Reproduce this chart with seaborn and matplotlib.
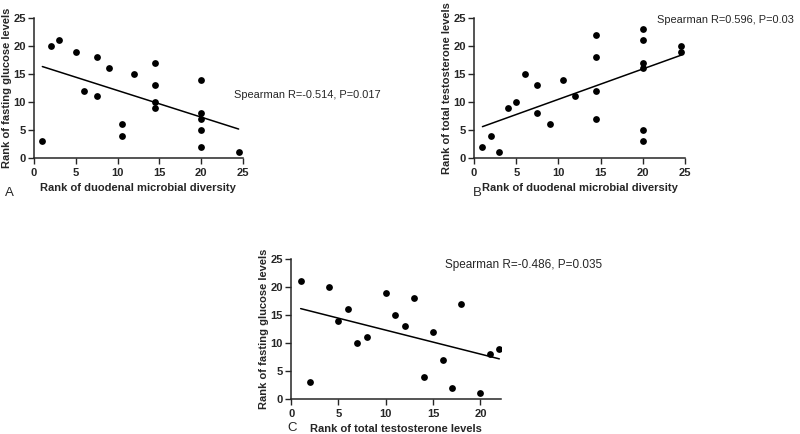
import numpy as np
import pandas as pd
import matplotlib
matplotlib.use('Agg')
import matplotlib.pyplot as plt
import seaborn as sns

# Panel A: duodenal diversity rank vs fasting glucose rank
a_x = [1, 2, 3, 5, 6, 7.5, 7.5, 9, 10.5, 10.5, 12, 14.5, 14.5, 14.5, 14.5, 20, 20, 20, 20, 20, 24.5]
a_y = [3, 20, 21, 19, 12, 18, 11, 16, 6, 4, 15, 17, 13, 10, 9, 14, 8, 7, 5, 2, 1]

# Panel B: duodenal diversity rank vs total testosterone rank
b_x = [1, 2, 3, 4, 5, 6, 7.5, 7.5, 9, 10.5, 12, 14.5, 14.5, 14.5, 14.5, 20, 20, 20, 20, 20, 20, 24.5, 24.5]
b_y = [2, 4, 1, 9, 10, 15, 13, 8, 6, 14, 11, 22, 18, 12, 7, 23, 21, 17, 16, 5, 3, 20, 19]

# Panel C: total testosterone rank vs fasting glucose rank
c_x = [1, 2, 4, 5, 6, 7, 8, 10, 11, 12, 13, 14, 15, 16, 17, 18, 20, 21, 22]
c_y = [21, 3, 20, 14, 16, 10, 11, 19, 15, 13, 18, 4, 12, 7, 2, 17, 1, 8, 9]

sns.set_style('ticks')
plt.rcParams['font.family'] = ['Liberation Sans', 'DejaVu Sans']

fig = plt.figure(figsize=(8, 4.34), dpi=100)

panels = [
    # x, y, axes rect, xmax, xticks, xlabel, ylabel, note, note pos, note size, letter, letter pos
    (a_x, a_y, [0.0425, 0.636, 0.261, 0.3226], 25, [0, 5, 10, 15, 20, 25],
     'Rank of duodenal microbial diversity', 'Rank of fasting glucose levels',
     'Spearman R=-0.514, P=0.017', (0.293, 0.781), 7.9, 'A', (0.006, 0.548)),
    (b_x, b_y, [0.5925, 0.636, 0.264, 0.3226], 25, [0, 5, 10, 15, 20, 25],
     'Rank of duodenal microbial diversity', 'Rank of total testosterone levels',
     'Spearman R=0.596, P=0.03', (0.821, 0.954), 7.9, 'B', (0.591, 0.548)),
    (c_x, c_y, [0.364, 0.0806, 0.2625, 0.3226], 22.2, [0, 5, 10, 15, 20],
     'Rank of total testosterone levels', 'Rank of fasting glucose levels',
     'Spearman R=-0.486, P=0.035', (0.556, 0.389), 8.5, 'C', (0.359, 0.008)),
]

for xs, ys, rect, xmax, xticks, xlabel, ylabel, note, note_pos, note_size, letter, letter_pos in panels:
    ax = fig.add_axes(rect)
    df = pd.DataFrame({'x': xs, 'y': ys})
    sns.regplot(data=df, x='x', y='y', ax=ax, ci=None, truncate=True,
                color='black',
                scatter_kws={'s': 24, 'linewidths': 0, 'alpha': 1},
                line_kws={'linewidth': 1.1})
    ax.set_xlim(0, xmax)
    ax.set_ylim(0, 25)
    ax.set_xticks(xticks)
    ax.set_yticks([0, 5, 10, 15, 20, 25])
    ax.set_xlabel(xlabel, fontsize=8, fontweight='bold', labelpad=3.5)
    ax.set_ylabel(ylabel, fontsize=8, fontweight='bold', labelpad=1)
    ax.tick_params(labelsize=8, length=4.5, width=1, pad=1.5)
    ax.tick_params(axis='x', pad=2.5)
    for lab in ax.get_xticklabels() + ax.get_yticklabels():
        lab.set_fontweight('bold')
    for side in ['left', 'bottom']:
        ax.spines[side].set_linewidth(1.1)
    sns.despine(ax=ax)
    fig.text(note_pos[0], note_pos[1], note, fontsize=note_size, va='center')
    fig.text(letter_pos[0], letter_pos[1], letter, fontsize=9.5)

fig.savefig('out.png', dpi=100, facecolor='white')
